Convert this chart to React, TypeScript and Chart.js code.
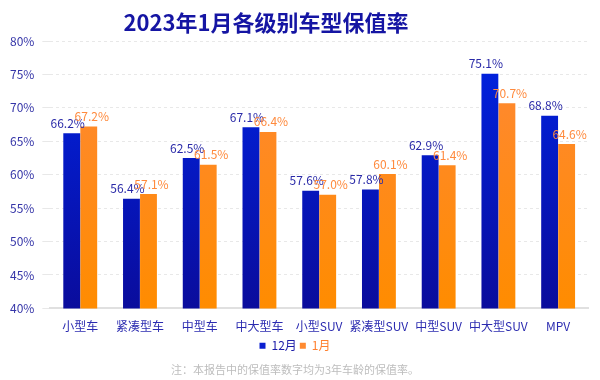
import React, { useEffect, useRef } from "react";
import { Chart, registerables } from "chart.js";

Chart.register(...registerables);

const categories = ["小型车", "紧凑型车", "中型车", "中大型车", "小型SUV", "紧凑型SUV", "中型SUV", "中大型SUV", "MPV"];
const dec = [66.2, 56.4, 62.5, 67.1, 57.6, 57.8, 62.9, 75.1, 68.8];
const jan = [67.2, 57.1, 61.5, 66.4, 57.0, 60.1, 61.4, 70.7, 64.6];
const seriesNames = ["12月", "1月"];
const yTicks = [40, 45, 50, 55, 60, 65, 70, 75, 80];
const titleText = "2023年1月各级别车型保值率";
const noteText = "注：本报告中的保值率数字均为3年车龄的保值率。";

const FONT = "'Microsoft YaHei', 'Noto Sans CJK SC', sans-serif";
const labelColors = ["#2a2aa8", "#ff8a3d"];

function gradient(chart: any, top: string, bottom: string) {
  const area = chart.chartArea;
  if (!area) return top;
  const g = chart.ctx.createLinearGradient(0, area.top, 0, area.bottom);
  g.addColorStop(0, top);
  g.addColorStop(1, bottom);
  return g;
}

const valueLabels = {
  id: "valueLabels",
  afterDatasetsDraw(chart: any) {
    const ctx = chart.ctx;
    ctx.save();
    ctx.font = `12px ${FONT}`;
    ctx.textAlign = "center";
    ctx.textBaseline = "bottom";
    chart.data.datasets.forEach((ds: any, i: number) => {
      const meta = chart.getDatasetMeta(i);
      ctx.fillStyle = labelColors[i];
      meta.data.forEach((el: any, j: number) => {
        const v = ds.data[j];
        ctx.fillText(v.toFixed(1) + "%", el.x + (i === 0 ? -4 : 3), el.y - 4);
      });
    });
    ctx.restore();
  },
};

const titleDraw = {
  id: "titleDraw",
  afterDraw(chart: any) {
    const ctx = chart.ctx;
    ctx.save();
    ctx.font = `bold 22px ${FONT}`;
    ctx.fillStyle = "#1515a3";
    ctx.textAlign = "center";
    ctx.textBaseline = "middle";
    ctx.fillText(titleText, 266, 23);
    ctx.restore();
  },
};

export default function App() {
  const ref = useRef<HTMLCanvasElement>(null);
  useEffect(() => {
    document.body.style.margin = "0";
    const chart = new Chart(ref.current!, {
      type: "bar",
      data: {
        labels: categories,
        datasets: [
          {
            label: seriesNames[0],
            data: dec,
            backgroundColor: (c: any) => gradient(c.chart, "#0024e4", "#0a0c9c"),
            categoryPercentage: 0.57,
            barPercentage: 0.99,
          },
          {
            label: seriesNames[1],
            data: jan,
            backgroundColor: (c: any) => gradient(c.chart, "#ff8838", "#ff8c00"),
            categoryPercentage: 0.57,
            barPercentage: 0.99,
          },
        ],
      },
      options: {
        animation: false,
        responsive: false,
        layout: { padding: { left: 2, right: 12, top: 41, bottom: 2 } },
        plugins: {
          title: { display: false },
          subtitle: {
            display: true,
            text: noteText,
            position: "bottom",
            color: "#bdbdbd",
            font: { family: FONT, size: 11 },
            padding: { top: 1, bottom: 2 },
          },
          legend: {
            position: "bottom",
            labels: {
              boxWidth: 6,
              boxHeight: 6,
              padding: 3,
              font: { family: FONT, size: 12 },
              generateLabels(chart: any) {
                return chart.data.datasets.map((ds: any, i: number) => ({
                  text: ds.label,
                  fillStyle: i === 0 ? "#0a1fd0" : "#ff8a30",
                  strokeStyle: "transparent",
                  lineWidth: 0,
                  fontColor: i === 0 ? "#1a1aa8" : "#ff8030",
                  datasetIndex: i,
                  hidden: false,
                }));
              },
            },
          },
          tooltip: { enabled: false },
        },
        scales: {
          x: {
            grid: { display: false },
            border: { color: "#e0e0e0", width: 2 },
            ticks: {
              color: "#2b2bb0",
              font: { family: FONT, size: 12 },
              padding: 3,
              maxRotation: 0,
              minRotation: 0,
              autoSkip: false,
            },
          },
          y: {
            min: 40,
            max: 80,
            afterBuildTicks(axis: any) {
              axis.ticks = yTicks.map((v) => ({ value: v }));
            },
            grid: { color: "#e8e8e8" },
            border: { display: false, dash: [3, 3] },
            ticks: {
              color: "#3535a8",
              font: { family: FONT, size: 12 },
              padding: 8,
              callback: (v: any) => v + "%",
            },
          },
        },
      },
      plugins: [valueLabels, titleDraw],
    });
    return () => chart.destroy();
  }, []);
  return (
    <div style={{ width: 600, height: 380, position: "relative" }}>
      <canvas ref={ref} width={600} height={380} />
    </div>
  );
}
